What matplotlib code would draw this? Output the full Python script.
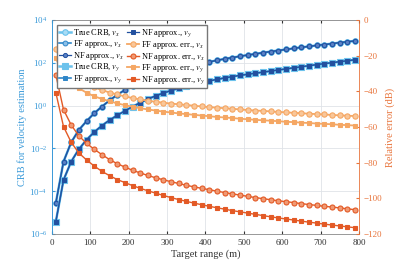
import numpy as np
import matplotlib
matplotlib.use('Agg')
import matplotlib.pyplot as plt

plt.rcParams['font.family'] = 'Liberation Serif'
plt.rcParams['mathtext.fontset'] = 'stix'

# target range (m)
rng = [10, 30, 50, 70, 90, 110, 130, 150, 170, 190, 210, 230, 250, 270, 290, 310, 330, 350, 370, 390,
       410, 430, 450, 470, 490, 510, 530, 550, 570, 590, 610, 630, 650, 670, 690, 710, 730, 750, 770, 790]

# log10 of CRB
crb_vx_log = [-4.55, -2.62, -1.72, -1.14, -0.73, -0.36, -0.05, 0.24, 0.50, 0.73, 0.93, 1.10, 1.26, 1.40,
              1.52, 1.63, 1.72, 1.81, 1.89, 1.97, 2.04, 2.11, 2.18, 2.24, 2.30, 2.36, 2.41, 2.47, 2.52,
              2.57, 2.62, 2.67, 2.72, 2.76, 2.81, 2.85, 2.89, 2.94, 2.98, 3.02]
crb_vy_log = [-5.42, -3.48, -2.62, -2.04, -1.60, -1.24, -0.94, -0.68, -0.46, -0.25, -0.05, 0.13, 0.30,
              0.45, 0.58, 0.70, 0.80, 0.90, 0.99, 1.07, 1.15, 1.22, 1.29, 1.35, 1.41, 1.46, 1.51, 1.56,
              1.61, 1.66, 1.71, 1.76, 1.81, 1.86, 1.91, 1.96, 2.00, 2.05, 2.09, 2.14]

# relative error (dB)
ff_err_vx = [-16.2, -26.2, -30.5, -33.3, -35.9, -37.8, -39.3, -40.7, -41.8, -42.9, -43.8, -44.6, -45.3,
             -45.9, -46.4, -46.9, -47.3, -47.7, -48.1, -48.5, -48.9, -49.2, -49.5, -49.8, -50.2, -50.5,
             -50.8, -51.0, -51.3, -51.6, -51.8, -52.1, -52.3, -52.6, -52.8, -53.0, -53.3, -53.5, -53.7, -53.9]
ff_err_vy = [-21.5, -30.8, -35.5, -38.3, -40.8, -42.8, -44.3, -45.6, -46.8, -47.8, -48.7, -49.5, -50.2,
             -50.8, -51.4, -51.9, -52.4, -52.8, -53.2, -53.6, -54.0, -54.4, -54.7, -55.0, -55.4, -55.7,
             -56.0, -56.3, -56.5, -56.8, -57.1, -57.3, -57.6, -57.8, -58.1, -58.3, -58.5, -58.8, -59.0, -59.2]
nf_err_vx = [-30.8, -50.3, -58.9, -65.0, -69.2, -72.5, -75.5, -78.3, -80.6, -82.5, -84.3, -85.8, -87.2,
             -88.5, -89.6, -90.7, -91.7, -92.7, -93.6, -94.4, -95.2, -96.0, -96.8, -97.5, -98.2, -98.9,
             -99.6, -100.2, -100.8, -101.4, -101.9, -102.4, -103.0, -103.5, -104.0, -104.5, -104.9,
             -105.4, -105.9, -106.4]
nf_err_vy = [-40.8, -59.8, -68.6, -74.6, -78.5, -81.9, -84.9, -87.3, -89.5, -91.2, -92.9, -94.4, -95.8,
             -97.1, -98.4, -99.6, -100.7, -101.7, -102.7, -103.6, -104.5, -105.3, -106.1, -106.9, -107.6,
             -108.3, -109.0, -109.7, -110.4, -111.0, -111.6, -112.2, -112.8, -113.4, -113.9, -114.5,
             -115.0, -115.5, -116.0, -116.5]

x = np.array(rng)
crb_vx = 10.0 ** np.array(crb_vx_log)
crb_vy = 10.0 ** np.array(crb_vy_log)

c_true = '#6cc2ec'
c_ff = '#2f86c8'
c_nf = '#22509f'
c_fferr = '#f5a764'
c_nferr = '#e35a26'
c_left = '#3a9ad9'
c_right = '#e8743b'

fig = plt.figure(figsize=(3.97, 2.62), dpi=100)
ax = fig.add_axes([0.131, 0.107, 0.773, 0.817])
ax2 = ax.twinx()

h = []
h += ax.plot(x, crb_vx, '-o', color=c_true, lw=1.8, ms=4, mfc='#a9dcf5', mec=c_true, mew=0.8, label=r'True CRB, $v_x$')
h += ax.plot(x, crb_vx, '-o', color=c_ff, lw=1.2, ms=3.5, mfc='#8cc0e8', mec=c_ff, mew=0.7, label=r'FF approx., $v_x$')
h += ax.plot(x, crb_vx, '-o', color=c_nf, lw=0.9, ms=3, mfc='#5a82c6', mec=c_nf, mew=0.7, label=r'NF approx., $v_x$')
h += ax.plot(x, crb_vy, '-s', color=c_true, lw=1.8, ms=4, mfc=c_true, mec=c_true, mew=0.8, label=r'True CRB, $v_y$')
h += ax.plot(x, crb_vy, '-s', color=c_ff, lw=1.2, ms=3.3, mfc=c_ff, mec=c_ff, mew=0.7, label=r'FF approx., $v_y$')
h += ax.plot(x, crb_vy, '-s', color=c_nf, lw=0.9, ms=2.8, mfc=c_nf, mec=c_nf, mew=0.7, label=r'NF approx., $v_y$')

h += ax2.plot(x, ff_err_vx, '-o', color=c_fferr, lw=1.3, ms=3.8, mfc='#f9c79a', mec=c_fferr, mew=0.8, label=r'FF approx. err., $v_x$')
h += ax2.plot(x, nf_err_vx, '-o', color=c_nferr, lw=1.0, ms=3.6, mfc='#f09a74', mec=c_nferr, mew=0.8, label=r'NF approx. err., $v_x$')
h += ax2.plot(x, ff_err_vy, '-s', color=c_fferr, lw=1.3, ms=3.4, mfc=c_fferr, mec=c_fferr, mew=0.8, label=r'FF approx. err., $v_y$')
h += ax2.plot(x, nf_err_vy, '-s', color=c_nferr, lw=1.0, ms=3.2, mfc=c_nferr, mec=c_nferr, mew=0.8, label=r'NF approx. err., $v_y$')

ax.set_yscale('log')
ax.set_xlim(0, 800)
ax.set_ylim(1e-6, 1e4)
ax.set_yticks([1e-6, 1e-4, 1e-2, 1e0, 1e2, 1e4])
ax.set_xticks(range(0, 801, 100))
ax2.set_ylim(-120, 0)
ax2.set_yticks(range(-120, 1, 20))

ax.grid(True, which='major', color='#dfe3e8', lw=0.6)
ax.grid(True, which='minor', color='#edf1f5', lw=0.4)
ax.set_axisbelow(True)

ax.tick_params(axis='x', labelsize=6.5, colors='#333333', length=2.5, direction='in', top=True)
ax.tick_params(axis='y', which='both', labelsize=6.5, colors=c_left, direction='in')
ax.tick_params(axis='y', which='major', length=2.5)
ax.tick_params(axis='y', which='minor', length=1.3)
ax2.tick_params(axis='y', labelsize=6.5, colors=c_right, length=2.5, direction='in')

for s in ['top', 'bottom']:
    ax.spines[s].set_color('#888888')
ax2.spines['top'].set_visible(False)
ax2.spines['bottom'].set_visible(False)
ax2.spines['left'].set_color(c_left)
ax2.spines['right'].set_color(c_right)
ax.spines['left'].set_color(c_left)
ax.spines['right'].set_visible(False)
for sp in list(ax.spines.values()) + list(ax2.spines.values()):
    sp.set_linewidth(0.6)

ax.set_xlabel('Target range (m)', fontsize=7.5, color='#333333', labelpad=2)
ax.set_ylabel('CRB for velocity estimation', fontsize=7.5, color=c_left, labelpad=2)
ax2.set_ylabel('Relative error (dB)', fontsize=7.5, color=c_right, labelpad=2)

ax2.legend(h, [l.get_label() for l in h], ncol=2, loc='upper left', fontsize=6.0,
           bbox_to_anchor=(0.012, 0.985), handlelength=1.4, handletextpad=0.25,
           columnspacing=0.4, labelspacing=0.0, borderpad=0.25, borderaxespad=0.2,
           framealpha=1, edgecolor='#777777', fancybox=False)

fig.savefig('out.png', dpi=100)
